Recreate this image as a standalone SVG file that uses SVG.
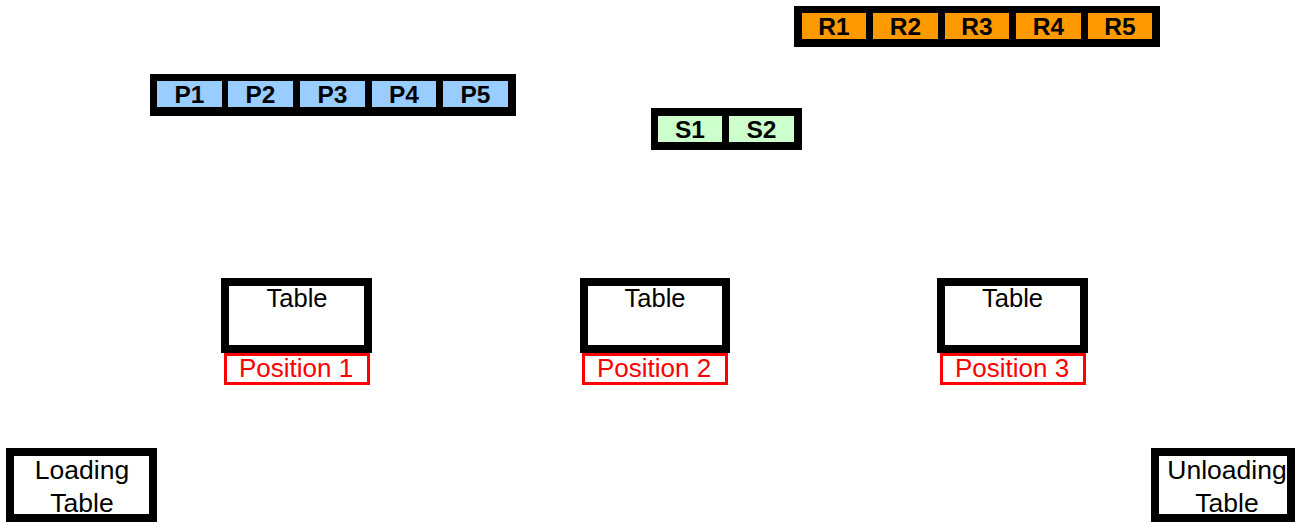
<svg xmlns="http://www.w3.org/2000/svg" width="1302" height="522" viewBox="0 0 1302 522">
<style>
.bar{fill:#000}
.p{fill:#99ccff}
.r{fill:#ff9900}
.s{fill:#ccffcc}
.lbl{font-family:"Liberation Sans",Arial,sans-serif;font-size:24.5px;font-weight:bold;fill:#000;text-anchor:middle}
.tbl{fill:#fff;stroke:#000;stroke-width:8}
.pos{fill:#fff;stroke:#ff0000;stroke-width:3}
.t{font-family:"Liberation Sans",Arial,sans-serif;font-size:25.5px;fill:#000;text-anchor:middle}
.tl{font-family:"Liberation Sans",Arial,sans-serif;font-size:26.5px;fill:#000;text-anchor:middle}
.tr{font-family:"Liberation Sans",Arial,sans-serif;font-size:26px;fill:#ff0000;text-anchor:middle}
</style>
<rect width="1302" height="522" fill="#fff"/>
<g id="P-bar">
<rect class="bar" x="150" y="74" width="366" height="42"/>
<rect class="p" x="157" y="81" width="65" height="26"/>
<rect class="p" x="228" y="81" width="65" height="26"/>
<rect class="p" x="300" y="81" width="65" height="26"/>
<rect class="p" x="372" y="81" width="64" height="26"/>
<rect class="p" x="443" y="81" width="65" height="26"/>
<text class="lbl" x="189.5" y="103">P1</text>
<text class="lbl" x="260.5" y="103">P2</text>
<text class="lbl" x="332.5" y="103">P3</text>
<text class="lbl" x="404" y="103">P4</text>
<text class="lbl" x="475.5" y="103">P5</text>
</g>
<g id="R-bar">
<rect class="bar" x="794" y="6" width="366" height="41"/>
<rect class="r" x="802" y="13" width="64" height="26"/>
<rect class="r" x="873" y="13" width="65" height="26"/>
<rect class="r" x="945" y="13" width="64" height="26"/>
<rect class="r" x="1016" y="13" width="65" height="26"/>
<rect class="r" x="1088" y="13" width="64" height="26"/>
<text class="lbl" x="834" y="35">R1</text>
<text class="lbl" x="905.5" y="35">R2</text>
<text class="lbl" x="977" y="35">R3</text>
<text class="lbl" x="1048.5" y="35">R4</text>
<text class="lbl" x="1120" y="35">R5</text>
</g>
<g id="S-bar">
<rect class="bar" x="651" y="108" width="151" height="42"/>
<rect class="s" x="658" y="116" width="64" height="26"/>
<rect class="s" x="729" y="116" width="65" height="26"/>
<text class="lbl" x="690" y="138">S1</text>
<text class="lbl" x="761.5" y="138">S2</text>
</g>
<g id="table1">
<rect class="tbl" x="225" y="282" width="143" height="67"/>
<text class="t" x="297" y="307">Table</text>
<rect class="pos" x="225.5" y="354.5" width="143" height="29"/>
<text class="tr" x="296" y="377">Position 1</text>
</g>
<g id="table2">
<rect class="tbl" x="584" y="282" width="142" height="67"/>
<text class="t" x="655" y="307">Table</text>
<rect class="pos" x="583.5" y="354.5" width="143" height="29"/>
<text class="tr" x="654" y="377">Position 2</text>
</g>
<g id="table3">
<rect class="tbl" x="941" y="282" width="143" height="67"/>
<text class="t" x="1012.5" y="307">Table</text>
<rect class="pos" x="941.5" y="354.5" width="143" height="29"/>
<text class="tr" x="1012" y="377">Position 3</text>
</g>
<g id="loading">
<rect class="tbl" x="10" y="452" width="143" height="66"/>
<text class="tl" x="82" y="479">Loading</text>
<text class="tl" x="82" y="512">Table</text>
</g>
<g id="unloading">
<rect class="tbl" x="1155" y="452" width="136" height="66"/>
<text class="tl" x="1227" y="479">Unloading</text>
<text class="tl" x="1227" y="512">Table</text>
</g>
<g id="connectors"></g>
</svg>
